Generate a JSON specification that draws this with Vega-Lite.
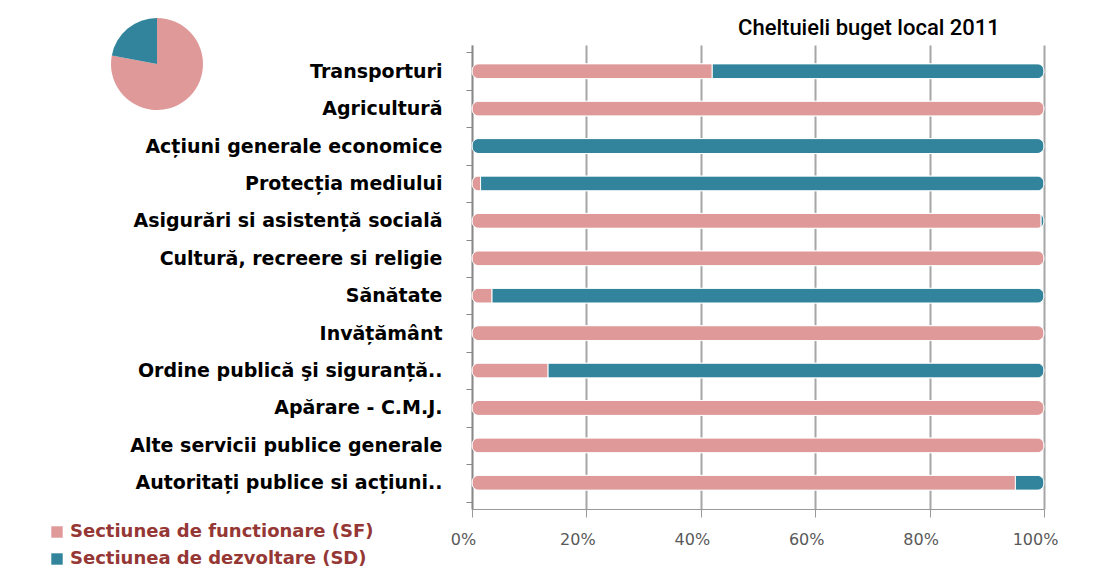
{
  "$schema": "https://vega.github.io/schema/vega-lite/v6.json",
  "background": "white",
  "padding": {"left": 48, "top": 17, "right": 5, "bottom": 5},
  "title": {"text": "Cheltuieli buget local 2011", "anchor": "end", "dx": -58, "font": "Roboto", "fontSize": 22, "fontWeight": 500, "color": "#000000", "offset": -22},
  "bounds": "flush",
  "spacing": 206,
  "datasets": {
    "pie": [
      {"series": "Sectiunea de functionare (SF)", "value": 78},
      {"series": "Sectiunea de dezvoltare (SD)", "value": 22}
    ],
    "bars": [
      {"category": "Transporturi", "series": "Sectiunea de functionare (SF)", "value": 42},
      {"category": "Transporturi", "series": "Sectiunea de dezvoltare (SD)", "value": 58},
      {"category": "Agricultură", "series": "Sectiunea de functionare (SF)", "value": 100},
      {"category": "Acțiuni generale economice", "series": "Sectiunea de dezvoltare (SD)", "value": 100},
      {"category": "Protecția mediului", "series": "Sectiunea de functionare (SF)", "value": 1.5},
      {"category": "Protecția mediului", "series": "Sectiunea de dezvoltare (SD)", "value": 98.5},
      {"category": "Asigurări si asistență socială", "series": "Sectiunea de functionare (SF)", "value": 99.5},
      {"category": "Asigurări si asistență socială", "series": "Sectiunea de dezvoltare (SD)", "value": 0.5},
      {"category": "Cultură, recreere si religie", "series": "Sectiunea de functionare (SF)", "value": 100},
      {"category": "Sănătate", "series": "Sectiunea de functionare (SF)", "value": 3.5},
      {"category": "Sănătate", "series": "Sectiunea de dezvoltare (SD)", "value": 96.5},
      {"category": "Invățământ", "series": "Sectiunea de functionare (SF)", "value": 100},
      {"category": "Ordine publică şi siguranță..", "series": "Sectiunea de functionare (SF)", "value": 13.3},
      {"category": "Ordine publică şi siguranță..", "series": "Sectiunea de dezvoltare (SD)", "value": 86.7},
      {"category": "Apărare - C.M.J.", "series": "Sectiunea de functionare (SF)", "value": 100},
      {"category": "Alte servicii publice generale", "series": "Sectiunea de functionare (SF)", "value": 100},
      {"category": "Autoritați publice si acțiuni..", "series": "Sectiunea de functionare (SF)", "value": 95},
      {"category": "Autoritați publice si acțiuni..", "series": "Sectiunea de dezvoltare (SD)", "value": 5}
    ]
  },
  "hconcat": [
    {
      "width": 218,
      "height": 38,
      "data": {"name": "pie"},
      "mark": {"type": "arc", "outerRadius": 46, "stroke": null},
      "encoding": {
        "theta": {"field": "value", "type": "quantitative", "stack": true},
        "order": {"field": "series", "sort": "descending"},
        "color": {
          "field": "series", "type": "nominal",
          "scale": {"domain": ["Sectiunea de functionare (SF)", "Sectiunea de dezvoltare (SD)"], "range": ["#DE9998", "#31849B"]},
          "legend": {"orient": "none", "legendX": 0, "legendY": 478, "title": null, "symbolType": "square", "symbolSize": 130, "symbolStrokeWidth": 0, "labelFont": "DejaVu Sans", "labelFontWeight": "bold", "labelFontSize": 18, "labelColor": "#953735", "rowPadding": 9, "labelOffset": 4, "labelLimit": 600}
        }
      }
    },
    {
      "width": 572,
      "height": 464,
      "data": {"name": "bars"},
      "mark": {"type": "bar", "height": {"band": 0.4}, "cornerRadius": 7, "stroke": "#ffffff", "strokeWidth": 1},
      "encoding": {
        "y": {
          "field": "category", "type": "nominal", "sort": null,
          "scale": {"paddingInner": 0, "paddingOuter": 0.2},
          "axis": {"title": null, "tickBand": "extent", "labelFont": "DejaVu Sans", "labelFontWeight": "bold", "labelFontSize": 19, "labelColor": "#000000", "labelPadding": 24, "tickSize": 6, "tickColor": "#888888", "domainColor": "#888888", "domainWidth": 1.5, "grid": false, "labelLimit": 500}
        },
        "x": {
          "field": "value", "type": "quantitative", "stack": "normalize",
          "scale": {"domain": [0, 1], "nice": false},
          "axis": {"title": null, "values": [0, 0.2, 0.4, 0.6, 0.8, 1], "format": ".0%", "labelFlush": false, "labelFont": "DejaVu Sans", "labelFontSize": 16, "labelColor": "#595959", "labelOffset": -9, "labelPadding": 14, "tickSize": 8, "tickColor": "#999999", "domainColor": "#999999", "grid": true, "gridColor": "#A6A6A6", "gridWidth": 2}
        },
        "order": {"field": "series", "sort": "descending"},
        "color": {
          "field": "series", "type": "nominal",
          "scale": {"domain": ["Sectiunea de functionare (SF)", "Sectiunea de dezvoltare (SD)"], "range": ["#DE9998", "#31849B"]},
          "legend": {"orient": "none", "legendX": 0, "legendY": 478, "title": null, "symbolType": "square", "symbolSize": 130, "symbolStrokeWidth": 0, "labelFont": "DejaVu Sans", "labelFontWeight": "bold", "labelFontSize": 18, "labelColor": "#953735", "rowPadding": 9, "labelOffset": 4, "labelLimit": 600}
        }
      }
    }
  ],
  "config": {"view": {"stroke": null}}
}
